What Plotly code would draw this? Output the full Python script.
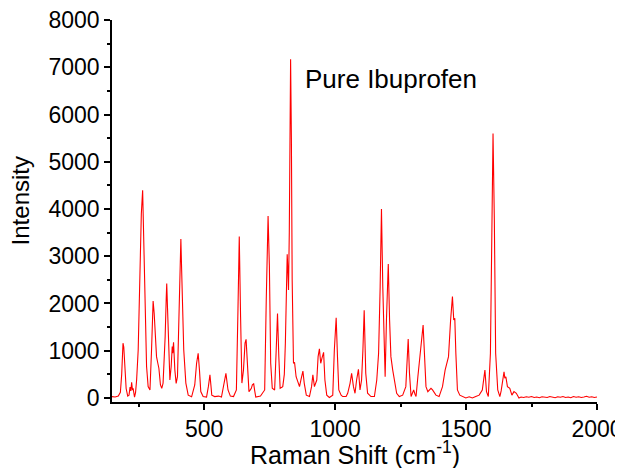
import plotly.graph_objects as go

# Raman shift (cm^-1) and intensity
raman_shift = [
    148, 160, 172, 180, 185, 190, 193, 197, 202, 208, 213, 217, 220, 223, 226, 229, 234, 238, 242, 248,
    255, 260, 265, 268, 271, 276, 280, 286, 293, 299, 305, 309, 314, 318, 323, 327, 333, 338, 343, 347,
    351, 355, 357, 360, 363, 369, 374, 378, 380, 383, 388, 393, 398, 403, 407, 411, 414, 417, 422, 430,
    439, 452, 464, 471, 477, 482, 487, 496, 509, 516, 522, 526, 529, 540, 555, 566, 575, 583, 591, 600,
    612, 623, 629, 634, 639, 644, 650, 656, 660, 665, 671, 676, 680, 684, 689, 693, 697, 715, 731, 737,
    741, 744, 749, 754, 760, 769, 775, 780, 785, 790, 800, 806, 810, 815, 817, 819, 822, 825, 827, 830,
    833, 836, 841, 845, 851, 858, 864, 870, 877, 882, 890, 902, 910, 915, 921, 930, 935, 940, 945, 950,
    956, 961, 968, 978, 991, 997, 1001, 1004, 1009, 1014, 1023, 1029, 1042, 1048, 1057, 1063, 1070, 1076, 1082, 1089,
    1095, 1101, 1106, 1111, 1117, 1124, 1137, 1150, 1159, 1166, 1172, 1177, 1182, 1187, 1191, 1196, 1203, 1208, 1213, 1220,
    1226, 1235, 1245, 1258, 1270, 1275, 1279, 1284, 1290, 1295, 1300, 1305, 1309, 1316, 1321, 1326, 1331, 1336, 1341, 1347,
    1354, 1360, 1366, 1372, 1378, 1385, 1397, 1410, 1420, 1427, 1433, 1441, 1448, 1453, 1457, 1461, 1467, 1476, 1488, 1499,
    1512, 1524, 1537, 1550, 1562, 1567, 1572, 1578, 1585, 1593, 1598, 1603, 1608, 1613, 1621, 1629, 1634, 1639, 1645, 1648,
    1652, 1658, 1667, 1675, 1683, 1692, 1702, 1710, 1720, 1730, 1740, 1750, 1760, 1770, 1780, 1790, 1800, 1810, 1820, 1830,
    1840, 1850, 1860, 1870, 1880, 1890, 1900, 1910, 1920, 1930, 1940, 1950, 1960, 1970, 1980, 1990, 2000,
]
intensity = [
    30, 20, 40, 120, 500, 1160, 1080, 600, 200, 40, 60, 230, 150, 330, 180, 190, 20, 120, 380, 1015,
    2780, 3900, 4395, 3600, 2430, 1200, 665, 240, 170, 1015, 2050, 1800, 1200, 875, 735, 630, 275, 205, 315, 700,
    1300, 2100, 2425, 1900, 1300, 380, 665, 1090, 950, 1180, 590, 310, 450, 1720, 2800, 3365, 2700, 1860, 1015, 315,
    60, 25, 275, 735, 945, 590, 135, 30, 20, 240, 490, 250, 60, 30, 40, 20, 315, 520, 170, 40,
    30, 170, 1860, 3415, 1720, 315, 590, 1160, 1240, 735, 135, 170, 205, 280, 300, 150, 20, 40, 170, 2075,
    3400, 3850, 2780, 735, 205, 170, 1015, 1790, 875, 205, 240, 500, 1160, 2920, 3040, 2800, 2285, 3500, 5200, 7170,
    5500, 2500, 735, 755, 450, 315, 240, 400, 570, 315, 60, 30, 240, 490, 240, 380, 875, 1040, 735, 850,
    965, 380, 60, 10, 60, 1015, 1500, 1700, 875, 170, 60, 30, 30, 100, 310, 520, 240, 100, 380, 605,
    170, 380, 1000, 1855, 525, 100, 30, 30, 380, 945, 2355, 4000, 2355, 945, 450, 1650, 2835, 1650, 875, 590,
    380, 100, 30, 60, 240, 805, 1250, 520, 30, 100, 170, 80, 30, 450, 735, 945, 1230, 1545, 945, 240,
    135, 180, 205, 170, 120, 60, 30, 240, 590, 770, 875, 1650, 2145, 1650, 1685, 945, 170, 60, 20, 0,
    25, 0, 30, 60, 170, 400, 590, 135, 30, 945, 3770, 5600, 3770, 945, 170, 30, 150, 310, 555, 420,
    450, 240, 205, 60, 135, 100, 0, 20, 10, 25, 15, 30, 10, 20, 5, 25, 15, 10, 30, 20,
    5, 25, 15, 30, 10, 20, 5, 30, 15, 25, 10, 20, 35, 15, 25, 10, 20,
]

x_tick_vals = [500, 1000, 1500, 2000]
y_tick_vals = [0, 1000, 2000, 3000, 4000, 5000, 6000, 7000, 8000]

font_family = "Liberation Sans, Arial, sans-serif"

fig = go.Figure()
fig.add_trace(go.Scatter(
    x=raman_shift, y=intensity, mode="lines",
    line=dict(color="#ff0000", width=1.1),
    showlegend=False,
))

fig.add_annotation(
    x=1213, y=6750, xref="x", yref="y", text="Pure Ibuprofen",
    showarrow=False, font=dict(family=font_family, size=26, color="black"),
)
# axis titles
fig.add_annotation(
    x=0.5, y=-0.134, xref="paper", yref="paper", text="Raman Shift (cm<sup>-1</sup>)",
    showarrow=False, xanchor="center", yanchor="middle",
    font=dict(family=font_family, size=25, color="black"),
)
fig.add_annotation(
    x=-0.189, y=0.526, xref="paper", yref="paper", text="Intensity", textangle=-90,
    showarrow=False, xanchor="center", yanchor="middle",
    font=dict(family=font_family, size=24, color="black"),
)

# the page body adds an 8px offset, so the figure is 8px smaller than the window
fig.update_layout(
    width=615, height=460,
    margin=dict(l=104, r=26, t=12, b=66, autoexpand=False),
    paper_bgcolor="white", plot_bgcolor="white",
    font=dict(family=font_family, color="black"),
)

fig.update_xaxes(
    range=[148, 2000], tickvals=x_tick_vals, ticks="outside", ticklen=6, tickwidth=1.5,
    tickcolor="black", showline=True, linecolor="black", linewidth=1.5, showgrid=False,
    zeroline=False, tickfont=dict(size=23, family=font_family), automargin=False,
    ticklabeloverflow="allow",
    minor=dict(tickvals=[250, 750, 1250, 1750], ticks="outside", ticklen=3, tickwidth=1.5, tickcolor="black"),
)
fig.update_yaxes(
    range=[-85, 8000], tickvals=y_tick_vals, ticks="outside", ticklen=6, tickwidth=1.5,
    tickcolor="black", showline=True, linecolor="black", linewidth=1.5, showgrid=False,
    zeroline=False, tickfont=dict(size=23, family=font_family), automargin=False,
    ticklabeloverflow="allow",
    minor=dict(tickvals=[500, 1500, 2500, 3500, 4500, 5500, 6500, 7500], ticks="outside", ticklen=3,
               tickwidth=1.5, tickcolor="black"),
)

fig.write_html("out.html")
